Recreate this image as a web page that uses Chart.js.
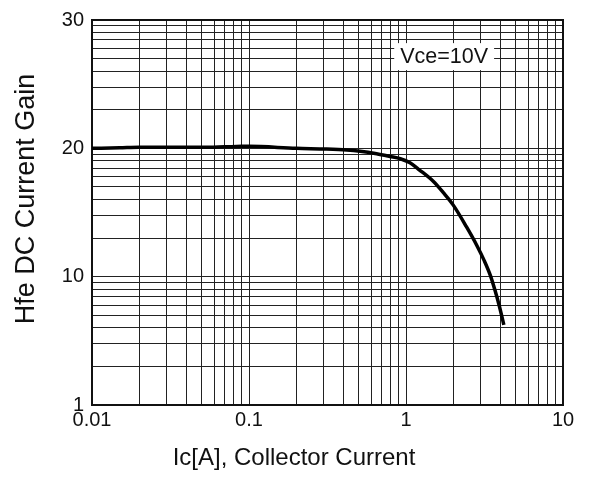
<!DOCTYPE html>
<html>
<head>
<meta charset="utf-8">
<style>
  body { margin: 0; background: #fff; }
</style>
<script src="https://cdn.jsdelivr.net/npm/chart.js"></script>
</head>
<body>
<canvas id="graficoHfe" width="591" height="477"></canvas>
<script>
// Ic [A]
const correnteColetor = [0.01, 0.015, 0.02, 0.03, 0.05, 0.07, 0.09, 0.1, 0.2, 0.31, 0.42, 0.51, 0.65, 0.79, 0.92, 1.06, 1.22, 1.49, 1.73, 2.0, 2.43, 2.81, 3.15, 3.44, 3.7, 3.93, 4.1, 4.2];
// Hfe as read against the printed labels
const ganhoHfe = [20.0, 20.01, 20.02, 20.02, 20.02, 20.03, 20.04, 20.04, 20.0, 19.87, 19.68, 19.43, 18.96, 18.49, 18.11, 17.47, 16.42, 15.04, 13.9, 12.9, 11.6, 10.86, 10.37, 10.03, 7.72, 5.91, 4.77, 4.21];

const xTicks = [0.01, 0.1, 1, 10];
const xTickLabels = ["0.01", "0.1", "1", "10"];
const yTickLabels = ["1", "10", "20", "30"];

const tituloX = "Ic[A], Collector Current";
const tituloY = "Hfe DC Current Gain";
const rotulo = { texto: "Vce=10V", ic: 1.75, hfe: 24.7 };

// the printed grid repeats one log decade per label: 1-10, 10-20, 20-30
function paraEixo(v) {
    if (v <= 10) return v;
    if (v <= 20) return 10 * (1 + 0.9 * (v - 10));
    return 100 * (1 + 0.9 * (v - 20));
}

function gradeLog(inicio, decadas) {
    let lista = [];
    for (let d = 0; d < decadas; d++) {
        let base = inicio * Math.pow(10, d);
        for (let m = 1; m <= 9; m++) lista.push({ value: base * m });
    }
    lista.push({ value: inicio * Math.pow(10, decadas) });
    return lista;
}

function perto(a, b) {
    return Math.abs(Math.log10(a) - Math.log10(b)) < 1e-6;
}

const fonte = "'Liberation Sans', Arial, sans-serif";
const corGrade = "#222";
const corTexto = "#111";

const moldura = {
    id: "moldura",
    beforeDatasetsDraw(chart) {
        const { ctx, chartArea: a, scales } = chart;
        ctx.save();
        ctx.strokeStyle = "#111";
        ctx.lineWidth = 2;
        ctx.strokeRect(a.left, a.top, a.right - a.left, a.bottom - a.top);

        // condition label on a white box
        ctx.font = "21.5px " + fonte;
        const px = scales.x.getPixelForValue(rotulo.ic);
        const py = scales.y.getPixelForValue(paraEixo(rotulo.hfe));
        const w = ctx.measureText(rotulo.texto).width + 12;
        ctx.fillStyle = "#fff";
        ctx.fillRect(px - w / 2, py - 13, w, 27);
        ctx.fillStyle = corTexto;
        ctx.textAlign = "center";
        ctx.textBaseline = "middle";
        ctx.fillText(rotulo.texto, px, py + 1);
        ctx.restore();
    },
    afterDraw(chart) {
        // axis titles sit off-centre in the original, so draw them by hand
        const { ctx } = chart;
        ctx.save();
        ctx.fillStyle = corTexto;
        ctx.textAlign = "center";
        ctx.textBaseline = "middle";
        ctx.font = "24px " + fonte;
        ctx.fillText(tituloX, 294, 458);
        ctx.translate(27, 199);
        ctx.rotate(-Math.PI / 2);
        ctx.font = "27px " + fonte;
        ctx.fillText(tituloY, 0, 0);
        ctx.restore();
    }
};

const graficoHfe = new Chart(document.querySelector("#graficoHfe"), {
    type: "line",
    data: {
        datasets: [
            {
                data: correnteColetor.map((ic, i) => ({ x: ic, y: paraEixo(ganhoHfe[i]) })),
                borderColor: "#000",
                borderWidth: 3.5,
                pointRadius: 0,
                cubicInterpolationMode: "monotone",
                fill: false
            }
        ]
    },
    options: {
        responsive: false,
        animation: false,
        layout: { padding: { top: 16, right: 28, left: 0, bottom: 0 } },
        plugins: { legend: { display: false }, tooltip: { enabled: false } },
        scales: {
            x: {
                type: "logarithmic",
                min: 0.01,
                max: 10,
                afterBuildTicks: (s) => { s.ticks = gradeLog(0.01, 3); },
                afterFit: (s) => { s.height = 72; },
                grid: { color: corGrade, lineWidth: 1, drawTicks: false },
                border: { color: "#111", width: 2 },
                ticks: {
                    autoSkip: false,
                    maxRotation: 0,
                    padding: 3,
                    color: corTexto,
                    font: { family: fonte, size: 20 },
                    callback: (v) => {
                        const i = xTicks.findIndex(t => perto(t, v));
                        return i >= 0 ? xTickLabels[i] : "";
                    }
                }
            },
            y: {
                type: "logarithmic",
                min: 1,
                max: 1000,
                afterBuildTicks: (s) => { s.ticks = gradeLog(1, 3); },
                afterFit: (s) => { s.width = 92; },
                grid: { color: corGrade, lineWidth: 1, drawTicks: false },
                border: { color: "#111", width: 2 },
                ticks: {
                    autoSkip: false,
                    padding: 8,
                    color: corTexto,
                    font: { family: fonte, size: 20 },
                    callback: (v) => {
                        const i = [1, 10, 100, 1000].findIndex(t => perto(t, v));
                        return i >= 0 ? yTickLabels[i] : "";
                    }
                }
            }
        }
    },
    plugins: [moldura]
});
</script>
</body>
</html>
